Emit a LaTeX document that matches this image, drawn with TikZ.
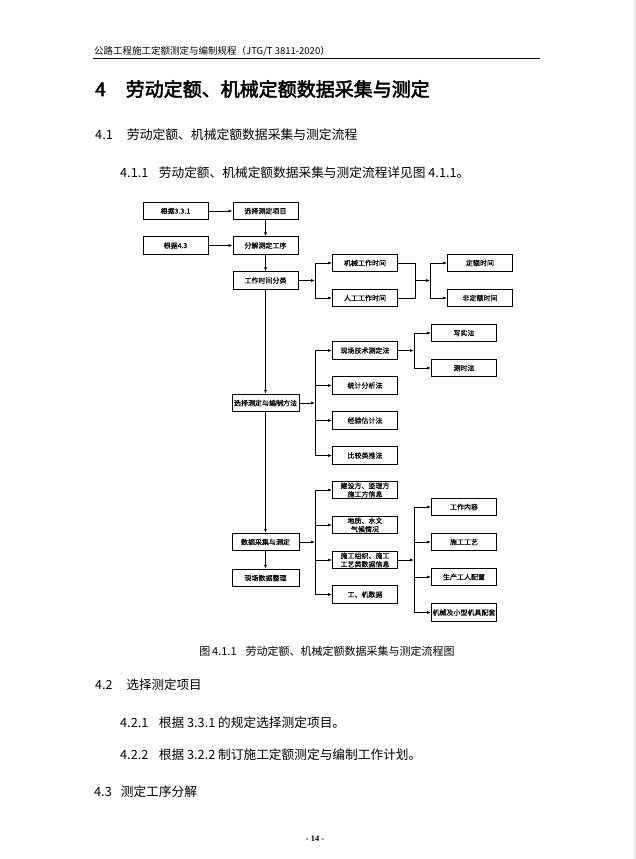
\documentclass[tikz,border=0pt]{standalone}
\usepackage{fontspec}
\setmainfont{Liberation Serif}
\newfontfamily\cjk{Noto Sans CJK SC}
\newfontfamily\cjkbox[FakeBold=0.4]{Noto Sans CJK SC}
\newfontfamily\cjkbold[FakeBold=2.5]{Noto Sans CJK SC}
\usetikzlibrary{positioning,arrows.meta}

\tikzset{
  box/.style={draw, line width=0.9pt, minimum width=65pt, minimum height=17.5pt, inner sep=0.8pt,
    align=center, font=\cjkbox\fontsize{7}{8.5}\selectfont},
  link/.style={line width=0.7pt},
  arr/.style={line width=0.7pt, -{Latex[length=4pt,width=3pt]}},
  txt/.style={anchor=west, inner sep=0pt},
}

\begin{document}
\begin{tikzpicture}[x=1pt, y=-1pt]

\useasboundingbox (0,0) rectangle (636,859);
\fill[white] (0,0) rectangle (636,859);
\fill[gray!15] (634,0) rectangle (636,859);

% page text
\node[txt, font=\cjk\fontsize{9.5}{10}\selectfont] (header) at (94,51) {公路工程施工定额测定与编制规程（JTG/T 3811-2020）};
\draw[line width=0.9pt] (93,58) -- (540,58);
\node[txt, font=\cjkbold\fontsize{19}{20}\selectfont] (title) at (95,89) {4\hspace{20pt}劳动定额、机械定额数据采集与测定};
\node[txt, font=\cjk\fontsize{12.8}{14}\selectfont] (sec41) at (95,135) {4.1\hspace{14pt}劳动定额、机械定额数据采集与测定流程};
\node[txt, font=\cjk\fontsize{12.7}{14}\selectfont] (par411) at (120,173) {4.1.1\hspace{10.5pt}劳动定额、机械定额数据采集与测定流程详见图 4.1.1。};

\def\colA{175.5}
\def\colB{265.5}
\def\colC{365}
\def\colD{464}

% flow chart
\node[box] (gen331) at (\colA,211) {根据3.3.1};
\node[box] (xzxm) at (\colB,211) {选择测定项目};
\node[box] (gen43) at (\colA,245.5) {根据4.3};
\node[box] (fjgx) at (\colB,245.5) {分解测定工序};
\node[box] (sjfl) at (\colB,280.5) {工作时间分类};
\node[box] (jxsj) at (\colC,263) {机械工作时间};
\node[box] (rgsj) at (\colC,298) {人工工作时间};
\node[box] (desj) at (480,263) {定额时间};
\node[box] (fdesj) at (480,298) {非定额时间};

\node[box, minimum width=67pt] (xzff) at (\colB,403) {选择测定与编制方法};
\node[box] (xcjs) at (\colC,350.5) {现场技术测定法};
\node[box] (tjfx) at (\colC,385.5) {统计分析法};
\node[box] (jygj) at (\colC,420.5) {经验估计法};
\node[box] (bjlt) at (\colC,455.5) {比较类推法};
\node[box] (xsf) at (\colD,333) {写实法};
\node[box] (csf) at (\colD,368) {测时法};

\node[box, minimum width=67pt] (sjcj) at (\colB,542) {数据采集与测定};
\node[box, minimum width=67pt] (sjzl) at (\colB,578) {现场数据整理};
\node[box] (jsf) at (\colC,490) {建设方、监理方\\施工方信息};
\node[box] (dzsw) at (\colC,525) {地质、水文\\气候情况};
\node[box] (sgzz) at (\colC,560) {施工组织、施工\\工艺类数据信息};
\node[box] (gjsj) at (\colC,594.5) {工、机数据};
\node[box] (gznr) at (\colD,507) {工作内容};
\node[box] (sggy) at (\colD,542) {施工工艺};
\node[box] (scgr) at (\colD,577) {生产工人配置};
\node[box] (jxpt) at (\colD,612.5) {机械及小型机具配套};

\coordinate (j1) at (315,280.5);
\coordinate (m1) at (415,280.5);
\coordinate (j2) at (430,280.5);
\coordinate (j3) at (315,403);
\coordinate (j4) at (414,350.5);
\coordinate (j5) at (315,542);
\coordinate (j6) at (414,560);

\draw[arr] (gen331) -- (xzxm);
\draw[arr] (gen43) -- (fjgx);
\draw[arr] (xzxm) -- (fjgx);
\draw[arr] (fjgx) -- (sjfl);
\draw[arr] (sjfl) -- (xzff);
\draw[arr] (xzff) -- (sjcj);
\draw[arr] (sjcj) -- (sjzl);

\draw[arr] (sjfl) -- (j1);
\draw[arr] (j1) |- (jxsj);
\draw[arr] (j1) |- (rgsj);
\draw[link] (jxsj.east) -| (m1);
\draw[link] (rgsj.east) -| (m1);
\draw[arr] (m1) -- (j2);
\draw[arr] (j2) |- (desj);
\draw[arr] (j2) |- (fdesj);

\draw[arr] (xzff) -- (j3);
\draw[arr] (j3) |- (xcjs);
\draw[arr] (j3) |- (tjfx);
\draw[arr] (j3) |- (jygj);
\draw[arr] (j3) |- (bjlt);
\draw[arr] (xcjs) -- (j4);
\draw[arr] (j4) |- (xsf);
\draw[arr] (j4) |- (csf);

\draw[arr] (sjcj) -- (j5);
\draw[arr] (j5) |- (jsf);
\draw[arr] (j5) |- (dzsw);
\draw[arr] (j5) |- (sgzz);
\draw[arr] (j5) |- (gjsj);
\draw[arr] (sgzz) -- (j6);
\draw[arr] (j6) |- (gznr);
\draw[arr] (j6) |- (sggy);
\draw[arr] (j6) |- (scgr);
\draw[arr] (j6) |- (jxpt);

\node[font=\cjk\fontsize{11}{12}\selectfont] (caption) at (327,651) {图\,4.1.1\hspace{9pt}劳动定额、机械定额数据采集与测定流程图};

\node[txt, font=\cjk\fontsize{12.5}{14}\selectfont] (sec42) at (95,685) {4.2\hspace{14pt}选择测定项目};
\node[txt, font=\cjk\fontsize{12.7}{14}\selectfont] (par421) at (120,723) {4.2.1\hspace{10.5pt}根据 3.3.1 的规定选择测定项目。};
\node[txt, font=\cjk\fontsize{12.7}{14}\selectfont] (par422) at (120,755) {4.2.2\hspace{10.5pt}根据 3.2.2 制订施工定额测定与编制工作计划。};
\node[txt, font=\cjk\fontsize{12.7}{14}\selectfont] (sec43) at (94,792) {4.3\hspace{9pt}测定工序分解};
\node[font=\bfseries\fontsize{8.5}{9}\selectfont] (pageno) at (315,839) {- 14 -};

\end{tikzpicture}
\end{document}
